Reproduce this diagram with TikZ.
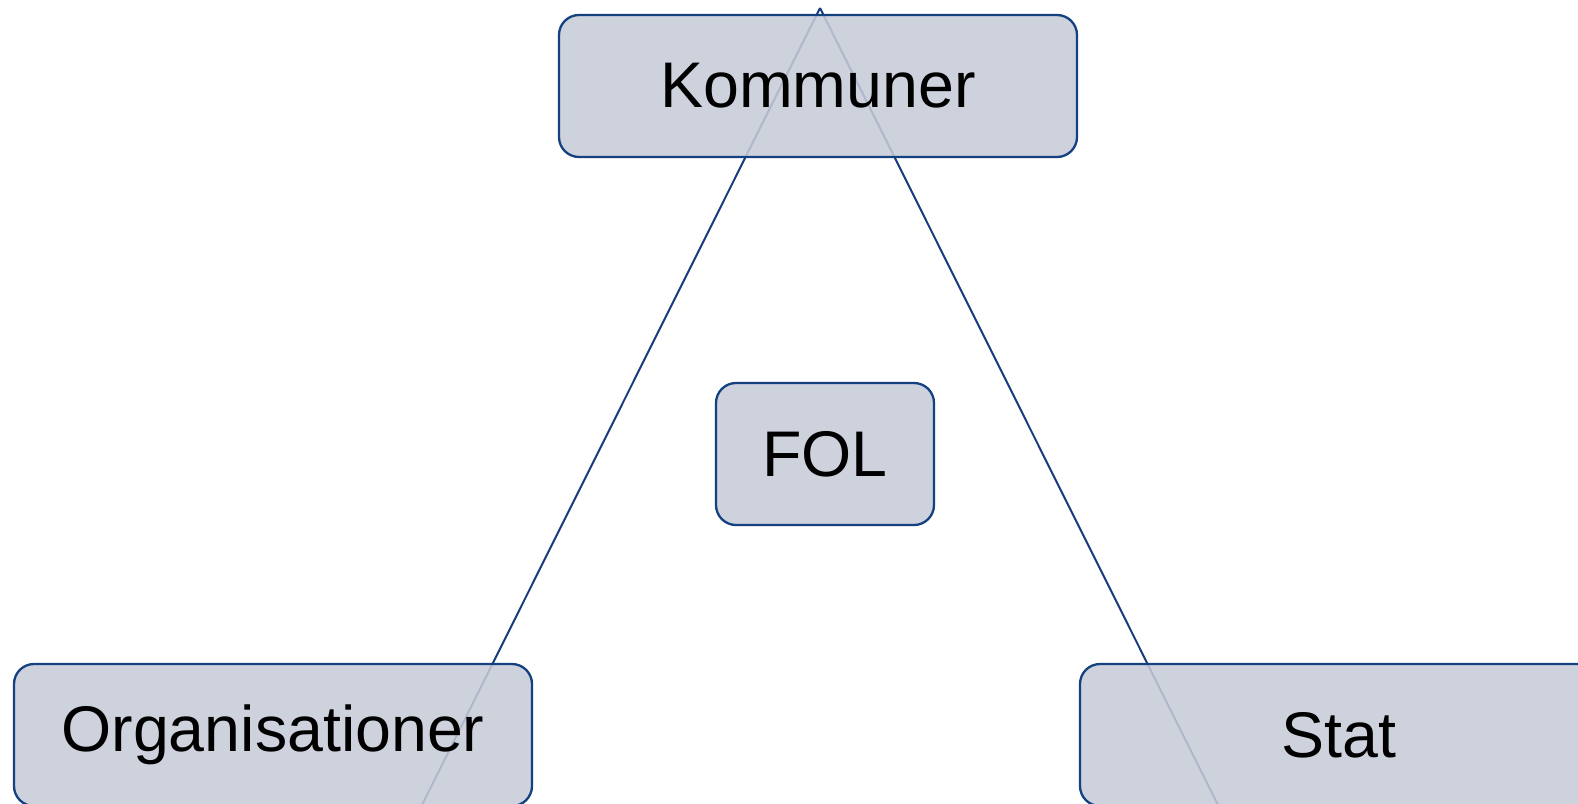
\documentclass[tikz,border=0pt]{standalone}
\usepackage{fontspec}
\setmainfont{Liberation Sans}
\definecolor{boxfill}{RGB}{199,203,216}
\definecolor{boxline}{RGB}{20,65,128}
\definecolor{linecol}{RGB}{25,60,125}
\begin{document}
\begin{tikzpicture}[x=1pt,y=-1pt,
  entity/.style={draw=boxline, line width=2.3pt, fill=boxfill, fill opacity=0.87, text opacity=1,
    rounded corners=20pt, inner sep=0pt, font=\fontsize{64.5}{77}\selectfont},
  tie/.style={draw=linecol, line width=2pt}]
\useasboundingbox (0,0) rectangle (1578,803);
\begin{scope}[overlay]
\clip (0,0) rectangle (1578,803);
\coordinate (apex) at (820,8);
\coordinate (leftend) at (415,819);
\coordinate (rightend) at (1225,819);
\draw[tie] (apex) -- (leftend);
\draw[tie] (apex) -- (rightend);
\node[entity, minimum width=518pt, minimum height=142pt] (kom) at (818,86) {Kommuner};
\node[entity, minimum width=218pt, minimum height=142pt] (fol) at (825,454) {FOL};
\node[entity, minimum width=518pt, minimum height=142pt] (org) at (273,735) {Organisationer};
\node[entity, minimum width=518pt, minimum height=142pt] (stat) at (1339,735) {};
\node[font=\fontsize{64.5}{77}\selectfont, inner sep=0pt] (statlabel) at (1339,735) {Stat};
\end{scope}
\end{tikzpicture}
\end{document}
